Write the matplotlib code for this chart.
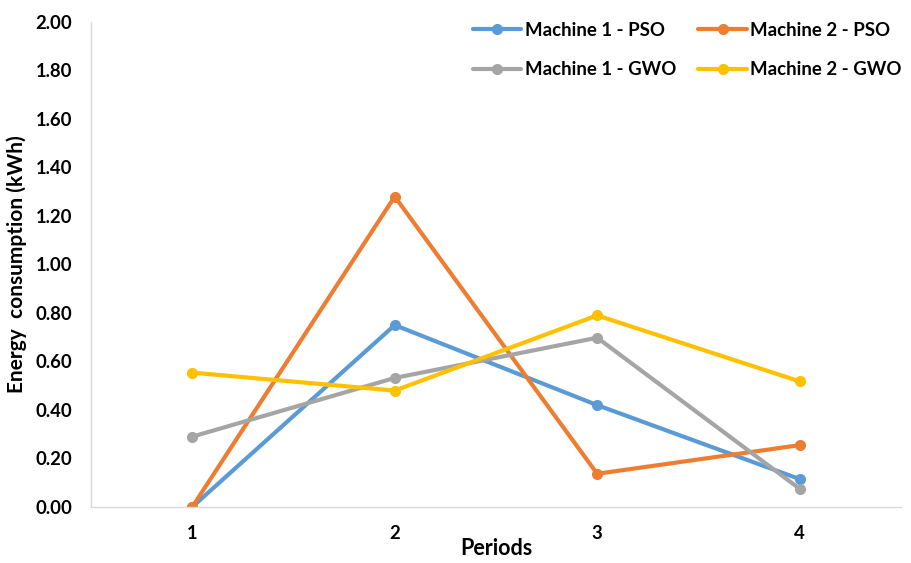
import matplotlib.pyplot as plt

periods = [1, 2, 3, 4]
m1_pso = [0.00, 0.75, 0.42, 0.115]
m2_pso = [0.00, 1.28, 0.137, 0.255]
m1_gwo = [0.29, 0.532, 0.698, 0.075]
m2_gwo = [0.554, 0.48, 0.79, 0.518]

series = [
    ("Machine 1 - PSO", m1_pso, "#5B9BD5"),
    ("Machine 2 - PSO", m2_pso, "#ED7D31"),
    ("Machine 1 - GWO", m1_gwo, "#A5A5A5"),
    ("Machine 2 - GWO", m2_gwo, "#FFC000"),
]

plt.rcParams['font.family'] = ['Lato', 'DejaVu Sans']
plt.rcParams['font.weight'] = 'bold'

fig = plt.figure(figsize=(9.11, 5.63), dpi=100)
ax = fig.add_axes([0.0999, 0.0995, 0.889, 0.8615])

lines = {}
for name, vals, col in series:
    ln, = ax.plot(periods, vals, color=col, lw=3, marker='o', ms=7, label=name,
                  solid_capstyle='round')
    lines[name] = ln

ax.set_xlim(0.5, 4.5)
ax.set_ylim(0, 2.0)
ax.set_xticks(periods)
ax.set_yticks([i * 0.2 for i in range(11)])
ax.set_yticklabels(["%.2f" % (i * 0.2) for i in range(11)])
ax.tick_params(axis='y', length=0, labelsize=13.3, pad=13.5)
ax.tick_params(axis='x', length=0, labelsize=13.3, pad=13)
for lbl in ax.get_xticklabels() + ax.get_yticklabels():
    lbl.set_fontweight('bold')

for s in ['top', 'right']:
    ax.spines[s].set_visible(False)
for s in ['left', 'bottom']:
    ax.spines[s].set_color('#D9D9D9')
    ax.spines[s].set_linewidth(1)

ax.set_xlabel('Periods', fontsize=15.5, fontweight='bold', labelpad=-3)
ax.set_ylabel('Energy  consumption (kWh)', fontsize=15, fontweight='bold', labelpad=6)

# matplotlib fills legend columns first, so reorder to get the rows right
order = ["Machine 1 - PSO", "Machine 1 - GWO", "Machine 2 - PSO", "Machine 2 - GWO"]
ax.legend([lines[n] for n in order], order, ncol=2, loc='upper right',
          bbox_to_anchor=(1.022, 1.035), frameon=False,
          handlelength=2.6, handletextpad=0.2, columnspacing=1.2,
          labelspacing=1.2, prop={'weight': 'bold', 'size': 13.4})

fig.savefig('out.png', dpi=100)
